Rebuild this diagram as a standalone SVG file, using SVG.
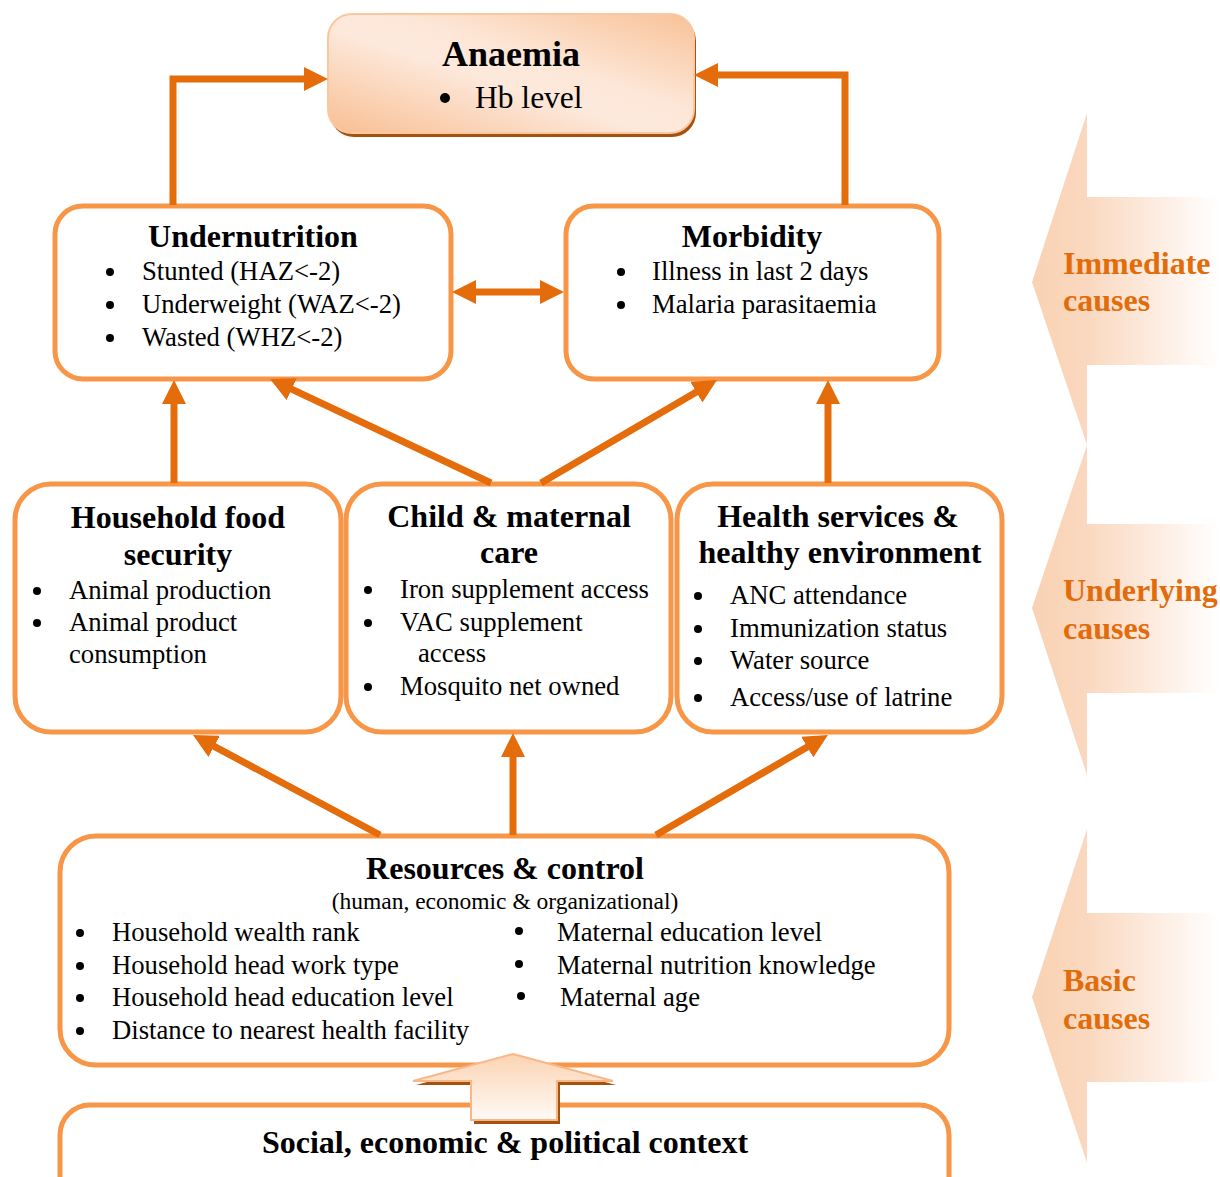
<svg xmlns="http://www.w3.org/2000/svg" width="1220" height="1177" viewBox="0 0 1220 1177">
<defs>
<linearGradient id="gAn" x1="0" y1="1" x2="1" y2="0">
<stop offset="0" stop-color="#f8be92"/>
<stop offset="0.45" stop-color="#fde9dc"/>
<stop offset="0.6" stop-color="#fde6d6"/>
<stop offset="1" stop-color="#f8c197"/>
</linearGradient>
<linearGradient id="gSide" gradientUnits="userSpaceOnUse" x1="1032" y1="0" x2="1220" y2="0">
<stop offset="0" stop-color="#f9d2b2"/>
<stop offset="0.29" stop-color="#fad8bf"/>
<stop offset="1" stop-color="#ffffff"/>
</linearGradient>
<linearGradient id="gUp" x1="0" y1="0" x2="0" y2="1">
<stop offset="0" stop-color="#fbd3b2"/>
<stop offset="1" stop-color="#fffaf6"/>
</linearGradient>
<marker id="ah" viewBox="0 0 24 24" refX="9" refY="12" markerWidth="24" markerHeight="24" markerUnits="userSpaceOnUse" orient="auto-start-reverse">
<path d="M0,0 L24,12 L0,24 z" fill="#e46c0a"/>
</marker>
<style>
.box{fill:#fff;stroke:#f79646;stroke-width:5}
.con{fill:none;stroke:#e46c0a;stroke-width:7;marker-end:url(#ah)}
.t{font-family:"Liberation Serif","Times New Roman",serif;font-weight:bold;font-size:32px;fill:#000;text-anchor:middle}
.b{font-family:"Liberation Serif","Times New Roman",serif;font-size:26.7px;fill:#000}
.s{font-family:"Liberation Serif","Times New Roman",serif;font-weight:bold;font-size:32px;fill:#e36c0a}
.side{fill:url(#gSide)}
</style>
</defs>

<g id="side-immediate">
<path class="side" d="M1087,113 L1032,282 L1087,445 L1087,365 L1220,365 L1220,197 L1087,197 z"/>
<text class="s" x="1063" y="274">Immediate</text>
<text class="s" x="1063" y="311">causes</text>
</g>
<g id="side-underlying">
<path class="side" d="M1087,445 L1032,608 L1087,775 L1087,693 L1220,693 L1220,524 L1087,524 z"/>
<text class="s" x="1063" y="601">Underlying</text>
<text class="s" x="1063" y="639">causes</text>
</g>
<g id="side-basic">
<path class="side" d="M1087,829 L1032,997 L1087,1163 L1087,1082 L1220,1082 L1220,913 L1087,913 z"/>
<text class="s" x="1063" y="991">Basic</text>
<text class="s" x="1063" y="1029">causes</text>
</g>

<g id="anaemia">
<rect x="330" y="17" width="366" height="120" rx="24" fill="#a5520f"/>
<rect x="328" y="14" width="366" height="119" rx="24" fill="url(#gAn)" stroke="#f9c7a0" stroke-width="2"/>
<text class="t" x="511" y="66" style="font-size:36px">Anaemia</text>
<circle cx="445" cy="98" r="5"/>
<text class="b" x="475" y="108" style="font-size:31.5px">Hb level</text>
</g>

<g id="undernutrition">
<rect class="box" x="55" y="206" width="396" height="173" rx="28"/>
<text class="t" x="253" y="247">Undernutrition</text>
<circle cx="110" cy="272" r="4"/><text class="b" x="142" y="280">Stunted (HAZ&lt;-2)</text>
<circle cx="110" cy="305" r="4"/><text class="b" x="142" y="313">Underweight (WAZ&lt;-2)</text>
<circle cx="110" cy="338" r="4"/><text class="b" x="142" y="346">Wasted (WHZ&lt;-2)</text>
</g>

<g id="morbidity">
<rect class="box" x="566" y="206" width="373" height="173" rx="28"/>
<text class="t" x="752" y="247">Morbidity</text>
<circle cx="621" cy="272" r="4"/><text class="b" x="652" y="280">Illness in last 2 days</text>
<circle cx="621" cy="305" r="4"/><text class="b" x="652" y="313">Malaria parasitaemia</text>
</g>

<g id="household">
<rect class="box" x="15" y="484" width="326" height="248" rx="36"/>
<text class="t" x="178" y="528">Household food</text>
<text class="t" x="178" y="565">security</text>
<circle cx="37" cy="591" r="4"/><text class="b" x="69" y="599">Animal production</text>
<circle cx="37" cy="623" r="4"/><text class="b" x="69" y="631">Animal product</text>
<text class="b" x="69" y="663">consumption</text>
</g>

<g id="childcare">
<rect class="box" x="346" y="484" width="325" height="248" rx="36"/>
<text class="t" x="509" y="527">Child &amp; maternal</text>
<text class="t" x="509" y="563">care</text>
<circle cx="368" cy="590" r="4"/><text class="b" x="400" y="598">Iron supplement access</text>
<circle cx="368" cy="623" r="4"/><text class="b" x="400" y="631">VAC supplement</text>
<text class="b" x="418" y="662">access</text>
<circle cx="368" cy="687" r="4"/><text class="b" x="400" y="695">Mosquito net owned</text>
</g>

<g id="health">
<rect class="box" x="677" y="484" width="325" height="248" rx="36"/>
<text class="t" x="838" y="527">Health services &amp;</text>
<text class="t" x="840" y="563">healthy environment</text>
<circle cx="698" cy="596" r="4"/><text class="b" x="730" y="604">ANC attendance</text>
<circle cx="698" cy="629" r="4"/><text class="b" x="730" y="637">Immunization status</text>
<circle cx="698" cy="661" r="4"/><text class="b" x="730" y="669">Water source</text>
<circle cx="698" cy="698" r="4"/><text class="b" x="730" y="706">Access/use of latrine</text>
</g>

<g id="resources">
<rect class="box" x="60" y="836" width="889" height="229" rx="36"/>
<text class="t" x="505" y="879">Resources &amp; control</text>
<text class="b" x="505" y="909" style="font-size:23.5px;text-anchor:middle">(human, economic &amp; organizational)</text>
<circle cx="80" cy="933" r="4"/><text class="b" x="112" y="941">Household wealth rank</text>
<circle cx="80" cy="966" r="4"/><text class="b" x="112" y="974">Household head work type</text>
<circle cx="80" cy="998" r="4"/><text class="b" x="112" y="1006">Household head education level</text>
<circle cx="80" cy="1031" r="4"/><text class="b" x="112" y="1039">Distance to nearest health facility</text>
<circle cx="519" cy="931" r="4"/><text class="b" x="557" y="941">Maternal education level</text>
<circle cx="519" cy="964" r="4"/><text class="b" x="557" y="974">Maternal nutrition knowledge</text>
<circle cx="521" cy="996" r="4"/><text class="b" x="560" y="1006">Maternal age</text>
</g>

<g id="social">
<rect class="box" x="60" y="1105" width="889" height="110" rx="30"/>
<text class="t" x="505" y="1153">Social, economic &amp; political context</text>
</g>

<g id="uparrow">
<path d="M516,1058 L616,1085 L560,1085 L560,1124 L474,1124 L474,1085 L416,1085 z" fill="#a5520f"/>
<path d="M513,1054 L613,1081 L557,1081 L557,1120 L471,1120 L471,1081 L413,1081 z" fill="url(#gUp)" stroke="#f9b787" stroke-width="2"/>
</g>

<g id="connectors">
<path class="con" d="M173,205 V79 H313"/>
<path class="con" d="M845,205 V75 H709"/>
<path class="con" d="M467,292 H549" style="marker-start:url(#ah)"/>
<path class="con" d="M174,483 V395"/>
<path class="con" d="M491,483 L283.6,385.4"/>
<path class="con" d="M541,483 L704.1,387.6"/>
<path class="con" d="M828,483 V395"/>
<path class="con" d="M380,835 L206.2,742.1"/>
<path class="con" d="M513,835 V748"/>
<path class="con" d="M656,835 L815,742.5"/>
</g>
</svg>
